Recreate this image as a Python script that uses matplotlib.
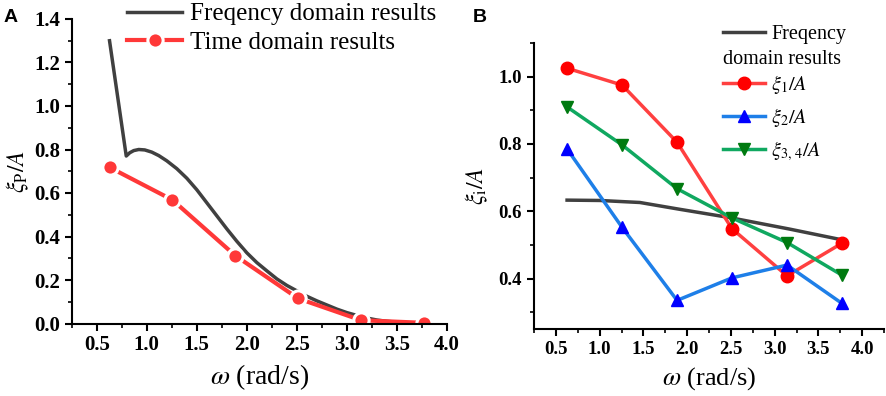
import matplotlib
matplotlib.use("Agg")
import matplotlib.pyplot as plt
from matplotlib.ticker import MultipleLocator

# ---------------- data ----------------
omega_pts = [0.628, 1.257, 1.885, 2.513, 3.142, 3.770]

# Panel A
freq_A_x = [0.628, 0.795, 0.83, 0.87, 0.92, 0.98, 1.05, 1.12, 1.20, 1.30, 1.40, 1.50,
            1.60, 1.70, 1.80, 1.90, 2.00, 2.10, 2.20, 2.30, 2.40, 2.50, 2.60, 2.70,
            2.80, 2.90, 3.00, 3.10, 3.20, 3.30, 3.40, 3.50, 3.60, 3.77]
freq_A_y = [1.30, 0.770, 0.785, 0.795, 0.800, 0.798, 0.788, 0.772, 0.748, 0.712, 0.668,
            0.615, 0.555, 0.495, 0.435, 0.378, 0.325, 0.280, 0.242, 0.205, 0.175, 0.150,
            0.125, 0.104, 0.085, 0.066, 0.050, 0.037, 0.025, 0.016, 0.010, 0.006, 0.004,
            0.002]
time_A_y = [0.718, 0.568, 0.312, 0.115, 0.015, 0.003]

# Panel B
freq_B_x = [0.628, 1.00, 1.46, 1.91, 2.49, 3.17, 3.77]
freq_B_y = [0.633, 0.632, 0.626, 0.606, 0.581, 0.547, 0.515]
xi1 = [1.025, 0.975, 0.805, 0.548, 0.408, 0.505]
xi2 = [0.785, 0.552, 0.335, 0.402, 0.440, 0.326]
xi34 = [0.910, 0.797, 0.667, 0.580, 0.507, 0.410]

tick_vals = [0.5, 1.0, 1.5, 2.0, 2.5, 3.0, 3.5, 4.0]
tick_lbls = ['0.5', '1.0', '1.5', '2.0', '2.5', '3.0', '3.5', '4.0']

# ---------------- style ----------------
plt.rcParams['font.family'] = ['Liberation Serif', 'DejaVu Serif']
plt.rcParams['mathtext.fontset'] = 'stix'

W, H = 886, 396
fig = plt.figure(figsize=(W / 100, H / 100), dpi=100)

def px_axes(l, t, r, b):
    return fig.add_axes([l / W, 1 - b / H, (r - l) / W, (b - t) / H])

def style(ax, fs):
    for s in ['top', 'right']:
        ax.spines[s].set_visible(False)
    for s in ['left', 'bottom']:
        ax.spines[s].set_linewidth(1.5)
    ax.tick_params(which='major', direction='out', length=5, width=1.5, labelsize=fs)
    ax.tick_params(which='minor', direction='out', length=3, width=1.2)
    for lbl in ax.get_xticklabels() + ax.get_yticklabels():
        lbl.set_fontweight('bold')

# ---------------- Panel A ----------------
axA = px_axes(71.7, 19, 447, 323.5)
axA.plot(freq_A_x, freq_A_y, color='#404040', lw=2.5, label='Freqency domain results')
axA.plot(omega_pts, time_A_y, color='#FF3838', lw=3, marker='o', ms=11,
         mfc='#FF3838', mec='white', mew=2.2, label='Time domain results')
axA.set_xlim(0.25, 4.0)
axA.set_ylim(0, 1.4)
axA.set_xticks(tick_vals)
axA.set_xticklabels(tick_lbls)
axA.xaxis.set_minor_locator(MultipleLocator(0.25))
axA.yaxis.set_major_locator(MultipleLocator(0.2))
axA.yaxis.set_minor_locator(MultipleLocator(0.1))
style(axA, 15)
axA.set_xlabel(r'$\omega$ (rad/s)', fontsize=20, labelpad=5)
axA.set_ylabel(r'$\xi_{\mathrm{P}}/A$', fontsize=17, labelpad=2)
axA.legend(loc='center left', bbox_to_anchor=((117 - 71.7) / 375.3, (323.5 - 28.5) / 304.5),
           frameon=False, fontsize=18, handlelength=2.2, handletextpad=0.3,
           labelspacing=0.25, borderaxespad=0)

# ---------------- Panel B ----------------
axB = px_axes(534, 43, 884, 329)
lf, = axB.plot(freq_B_x, freq_B_y, color='#404040', lw=2.5)
l1, = axB.plot(omega_pts, xi1, color='#FF4040', lw=2.5, marker='o', ms=9,
               mfc='#FF0000', mec='#FF0000')
l2, = axB.plot(omega_pts, xi2, color='#1E7FE8', lw=2.5, marker='^', ms=9,
               mfc='#0000FF', mec='#0000FF')
l3, = axB.plot(omega_pts, xi34, color='#10A860', lw=2.5, marker='v', ms=9,
               mfc='#007A10', mec='#007A10')
axB.set_xlim(0.25, 4.25)
axB.set_ylim(0.25, 1.1)
axB.set_xticks(tick_vals)
axB.set_xticklabels(tick_lbls)
axB.xaxis.set_minor_locator(MultipleLocator(0.25))
axB.set_yticks([0.4, 0.6, 0.8, 1.0])
axB.set_yticklabels(['0.4', '0.6', '0.8', '1.0'])
axB.yaxis.set_minor_locator(MultipleLocator(0.1))
style(axB, 13.5)
axB.set_xlabel(r'$\omega$ (rad/s)', fontsize=19, labelpad=5)
axB.set_ylabel(r'$\xi_{\mathrm{i}}/A$', fontsize=17, labelpad=6)

bx = (715 - 534) / 350
leg1 = axB.legend([lf], ['Freqency'], loc='center left',
                  bbox_to_anchor=(bx, (329 - 34) / 286), frameon=False, fontsize=14.5,
                  handlelength=2.1, handletextpad=0.3, borderaxespad=0)
axB.add_artist(leg1)
axB.legend([l1, l2, l3], [r'$\xi_1/A$', r'$\xi_2/A$', r'$\xi_{3,\,4}/A$'],
           loc='center left', bbox_to_anchor=(bx, (329 - 118) / 286), frameon=False,
           fontsize=14.5, handlelength=2.1, handletextpad=0.3, labelspacing=0.5,
           borderaxespad=0)
fig.text(723 / W, 1 - 59 / H, 'domain results', fontsize=14.5, va='center', ha='left')

# panel letters
fig.text(4 / W, 1 - 22 / H, 'A', fontsize=14, fontweight='bold', family='Liberation Sans')
fig.text(473 / W, 1 - 22 / H, 'B', fontsize=14, fontweight='bold', family='Liberation Sans')

fig.savefig('out.png', dpi=100)
